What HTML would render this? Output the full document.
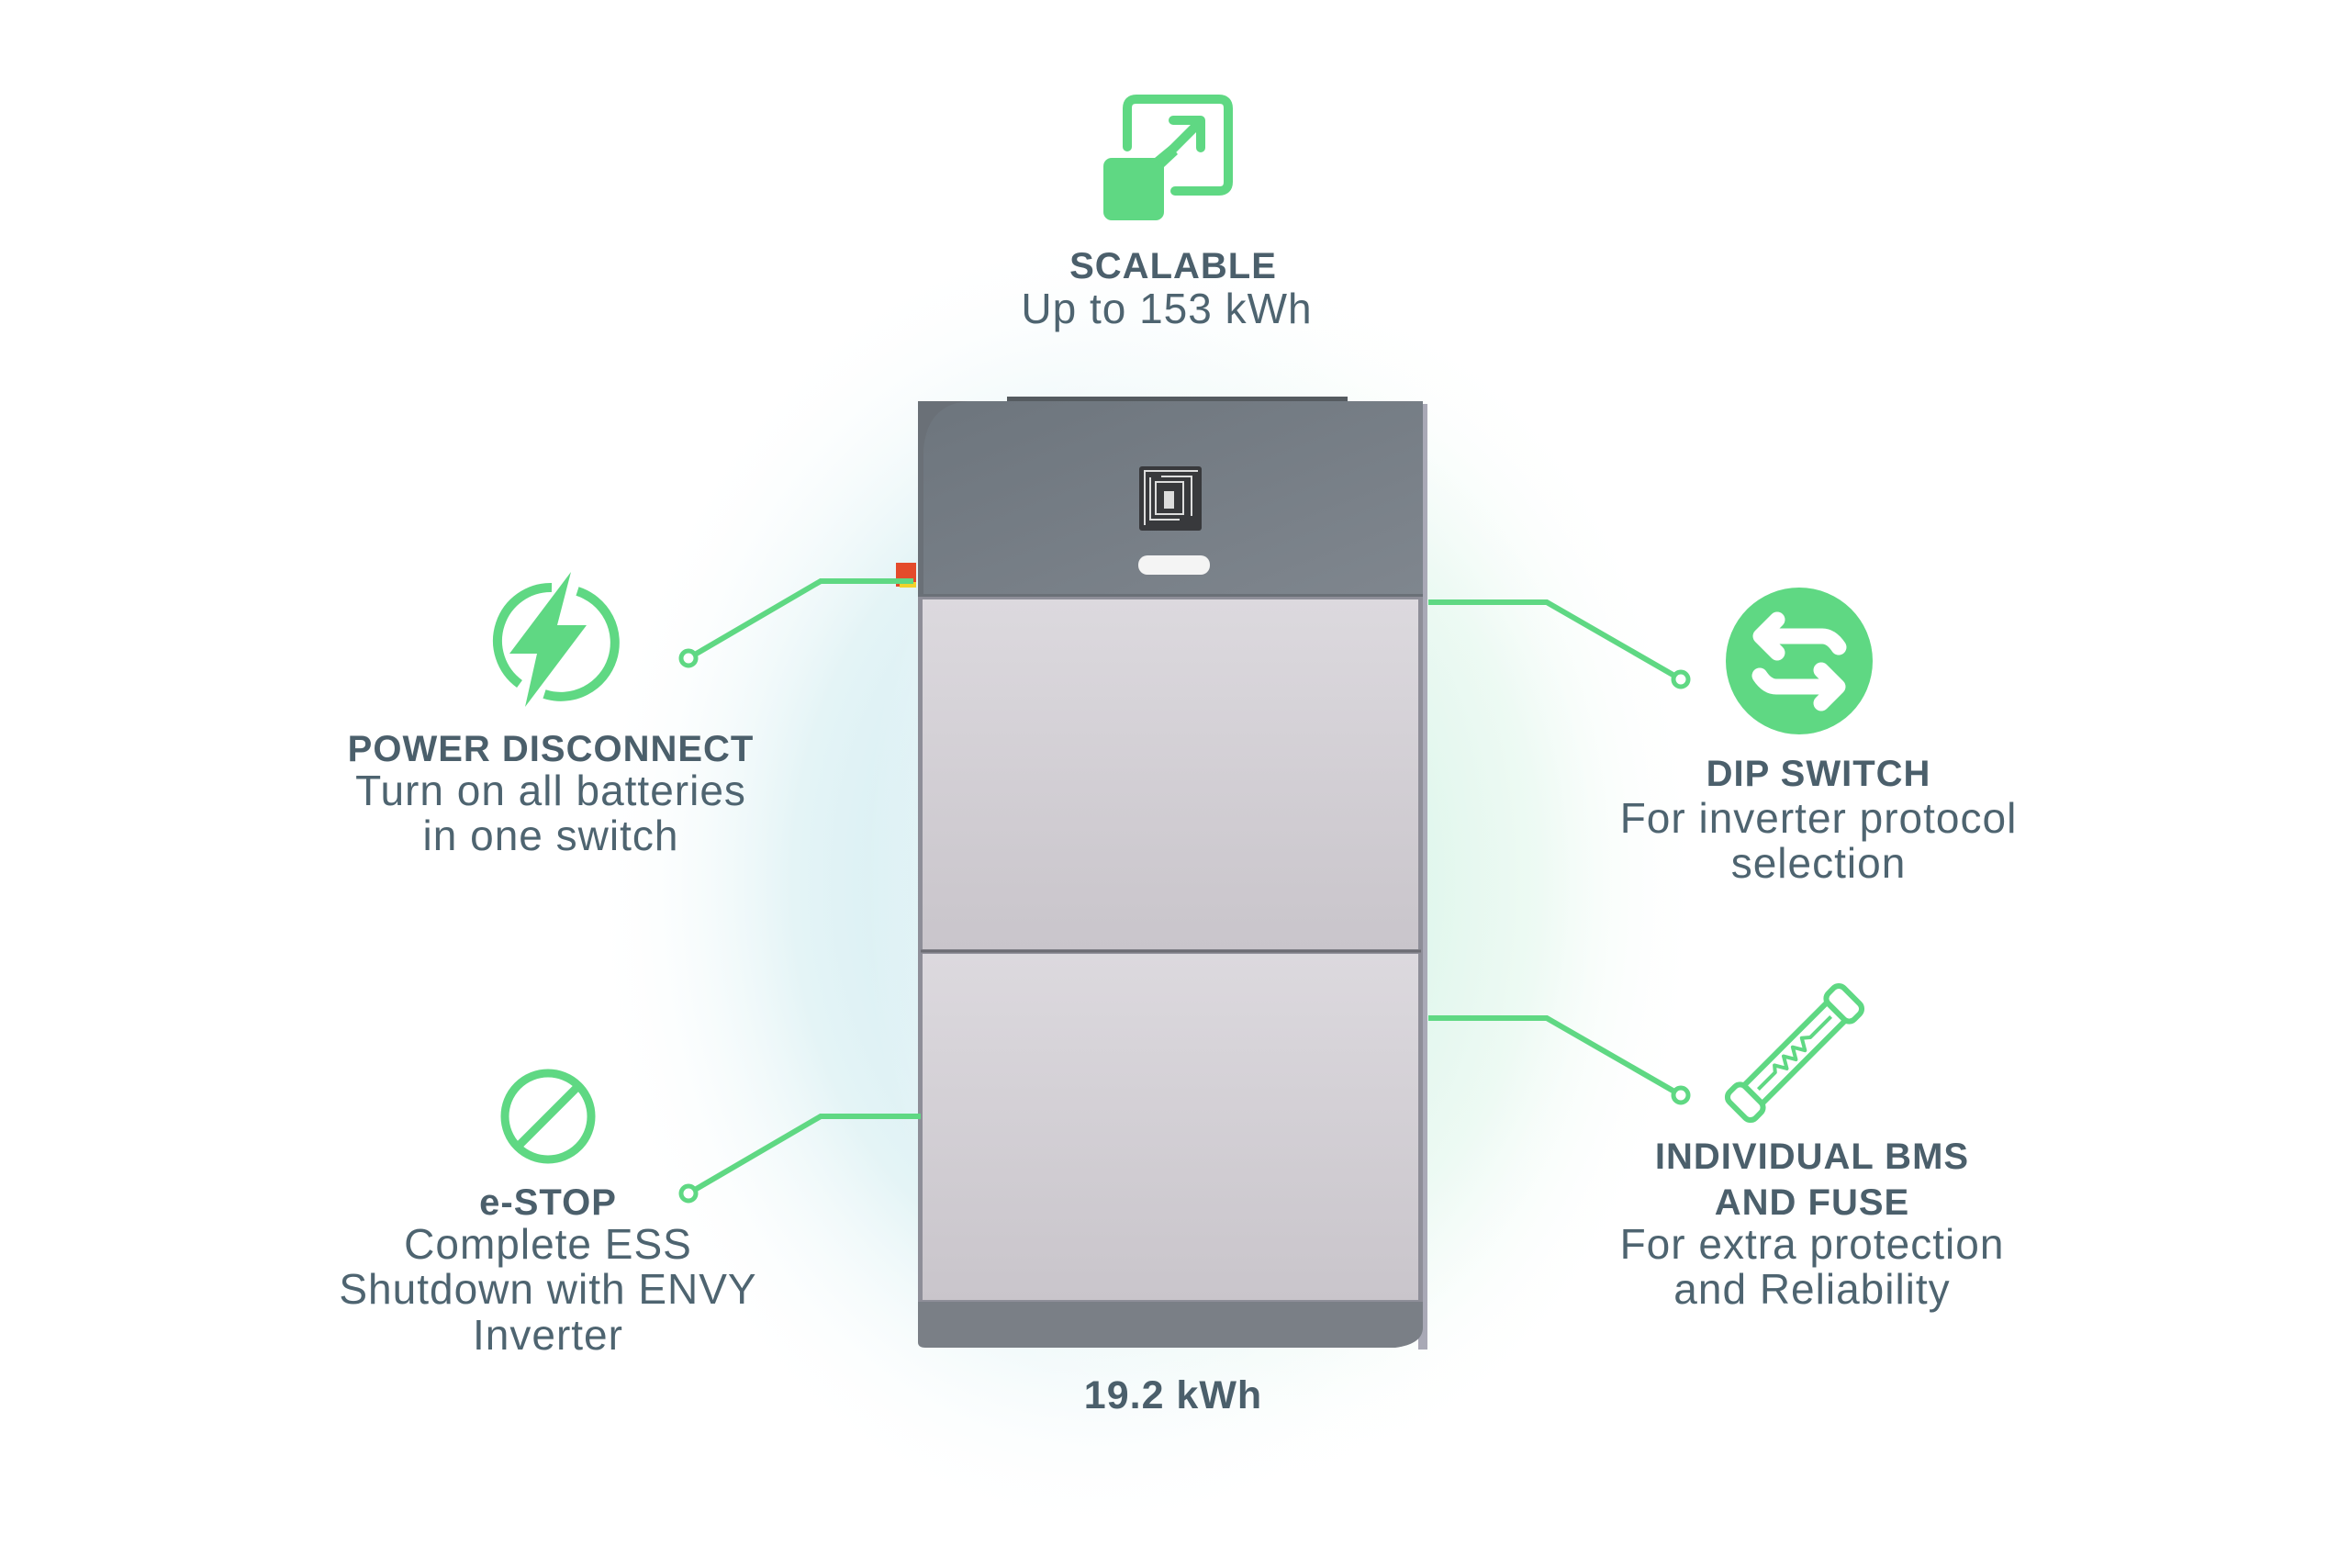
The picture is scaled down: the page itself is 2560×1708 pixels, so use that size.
<!DOCTYPE html>
<html><head><meta charset="utf-8"><style>
html,body{margin:0;padding:0;background:#fff;}
svg{display:block}
.h{font-family:"Liberation Sans",sans-serif;font-weight:bold;fill:#4b5f6b;font-size:40px;text-anchor:middle;letter-spacing:1px}
.t{font-family:"Liberation Sans",sans-serif;fill:#4e6470;font-size:46px;text-anchor:middle;letter-spacing:1px}
</style></head><body>
<svg width="2560" height="1708" viewBox="0 0 2560 1708" xmlns="http://www.w3.org/2000/svg">
<defs>
<radialGradient id="glowL" cx="0.5" cy="0.5" r="0.5">
<stop offset="0" stop-color="#c8e8f0"/><stop offset="0.6" stop-color="#e4f4f6"/><stop offset="1" stop-color="#ffffff" stop-opacity="0"/></radialGradient>
<radialGradient id="glowR" cx="0.5" cy="0.5" r="0.5">
<stop offset="0" stop-color="#d2f4e2"/><stop offset="0.6" stop-color="#eaf9f1"/><stop offset="1" stop-color="#ffffff" stop-opacity="0"/></radialGradient>
<linearGradient id="top" x1="0" y1="0" x2="1" y2="1"><stop offset="0" stop-color="#6d757d"/><stop offset="1" stop-color="#7f868e"/></linearGradient>
<linearGradient id="pan" x1="0" y1="0" x2="0" y2="1"><stop offset="0" stop-color="#dcd9de"/><stop offset="1" stop-color="#c9c5cb"/></linearGradient>
</defs>
<ellipse cx="1200" cy="960" rx="560" ry="720" fill="url(#glowL)"/>
<ellipse cx="1400" cy="960" rx="460" ry="660" fill="url(#glowR)" opacity="0.8"/>

<!-- cabinet -->
<rect x="1097" y="432" width="371" height="8" fill="#555b60"/>
<rect x="1545" y="440" width="10" height="1030" fill="#a9a9b6"/>
<rect x="1000" y="650" width="550" height="772" fill="#8e8e98"/>
<rect x="1005" y="653" width="540" height="381" fill="url(#pan)"/>
<rect x="1005" y="1039" width="540" height="377" fill="url(#pan)"/>
<line x1="1003" y1="1036" x2="1548" y2="1036" stroke="#6d6d74" stroke-width="3"/>
<path d="M1000 437 H1550 V650 H1000 Z" fill="#6a7077"/>
<path d="M1006 490 Q1010 440 1055 437 H1550 V647 H1006 Z" fill="url(#top)"/>
<rect x="1241" y="508" width="68" height="70" rx="3" fill="#38393c"/>
<path d="M1247 572 V513 H1305 M1265 519 H1298 V562 M1253 520 V566 H1285" stroke="#ddd" stroke-width="2" fill="none"/>
<rect x="1259" y="525" width="30" height="35" fill="none" stroke="#ddd" stroke-width="2"/>
<rect x="1268" y="535" width="11" height="19" fill="#ddd"/>
<rect x="1240" y="605" width="78" height="21" rx="10" fill="#f4f4f4"/>
<path d="M976 613 h22 v26 h-22 z" fill="#e44b2b"/><rect x="980" y="634" width="18" height="6" fill="#f2d22a"/>
<path d="M1000 1418 H1550 V1446 Q1550 1464 1520 1468 H1008 Q1000 1468 1000 1462 Z" fill="#7a7f86"/>

<!-- connectors -->
<g stroke="#5fd883" stroke-width="6" fill="none">
<polyline points="750,717 894,633 995,633"/>
<polyline points="750,1300 894,1216 1003,1216"/>
<polyline points="1556,656 1685,656 1831,740"/>
<polyline points="1556,1109 1685,1109 1831,1193"/>
</g>
<g fill="#fff" stroke="#5fd883" stroke-width="5">
<circle cx="750" cy="717" r="8"/><circle cx="750" cy="1300" r="8"/>
<circle cx="1831" cy="740" r="8"/><circle cx="1831" cy="1193" r="8"/>
</g>

<!-- scalable icon -->
<g stroke="#5fd883" stroke-width="10" fill="none" stroke-linecap="round" stroke-linejoin="round">
<path d="M1228 160 V118 Q1228 108 1238 108 H1328 Q1338 108 1338 118 V198 Q1338 208 1328 208 H1280"/>
<path d="M1262 178 L1308 132 M1278 131 H1308 V161"/>
</g>
<rect x="1202" y="172" width="66" height="68" rx="9" fill="#5fd883"/>
<path d="M1258 172 L1275 158 L1283 168 L1268 182 Z" fill="#5fd883"/>

<!-- power icon -->
<g fill="none" stroke="#5fd883" stroke-width="10">
<path d="M601 640 A58 58 0 0 0 566 745"/>
<path d="M629 644 A58 58 0 0 1 593 756"/>
</g>
<polygon points="622,623 607,681 639,681 572,770 585,712 555,712" fill="#5fd883"/>

<!-- estop icon -->
<g fill="none" stroke="#5fd883" stroke-width="9">
<circle cx="597" cy="1216" r="47"/>
<line x1="630" y1="1183" x2="564" y2="1249"/>
</g>

<!-- dip icon -->
<circle cx="1960" cy="720" r="80" fill="#5fd883"/>
<g fill="none" stroke="#fff" stroke-width="17" stroke-linecap="round" stroke-linejoin="round">
<path d="M1936 675 L1918 693 L1936 711 M1918 693 H1985 Q1995 693 2003 705"/>
<path d="M1984 730 L2002 748 L1984 766 M2002 748 H1935 Q1925 748 1917 736"/>
</g>

<!-- fuse icon -->
<g transform="translate(1955,1147) rotate(-45)" fill="none" stroke="#5fd883" stroke-width="6" stroke-linejoin="round">
<rect x="-88" y="-20" width="24" height="40" rx="8"/>
<rect x="64" y="-20" width="24" height="40" rx="8"/>
<rect x="-64" y="-14" width="128" height="28"/>
<polyline points="-56,0 -30,0 -25,-6 -18,6 -11,-6 -4,6 3,-6 10,6 17,-6 24,0 56,0" stroke-width="4"/>
</g>

<!-- text -->
<text class="h" x="1278" y="303">SCALABLE</text>
<text class="t" x="1271" y="352">Up to 153 kWh</text>
<text class="h" x="600" y="829">POWER DISCONNECT</text>
<text class="t" x="600" y="877">Turn on all batteries</text>
<text class="t" x="600" y="926">in one switch</text>
<text class="h" x="597" y="1323">e-STOP</text>
<text class="t" x="597" y="1371">Complete ESS</text>
<text class="t" x="597" y="1420">Shutdown with ENVY</text>
<text class="t" x="597" y="1470">Inverter</text>
<text class="h" x="1981" y="856">DIP SWITCH</text>
<text class="t" x="1981" y="907">For inverter protocol</text>
<text class="t" x="1981" y="956">selection</text>
<text class="h" x="1974" y="1273">INDIVIDUAL BMS</text>
<text class="h" x="1974" y="1323">AND FUSE</text>
<text class="t" x="1974" y="1371">For extra protection</text>
<text class="t" x="1974" y="1420">and Reliability</text>
<text class="h" x="1278" y="1534" style="font-size:43px">19.2 kWh</text>
</svg>
</body></html>
